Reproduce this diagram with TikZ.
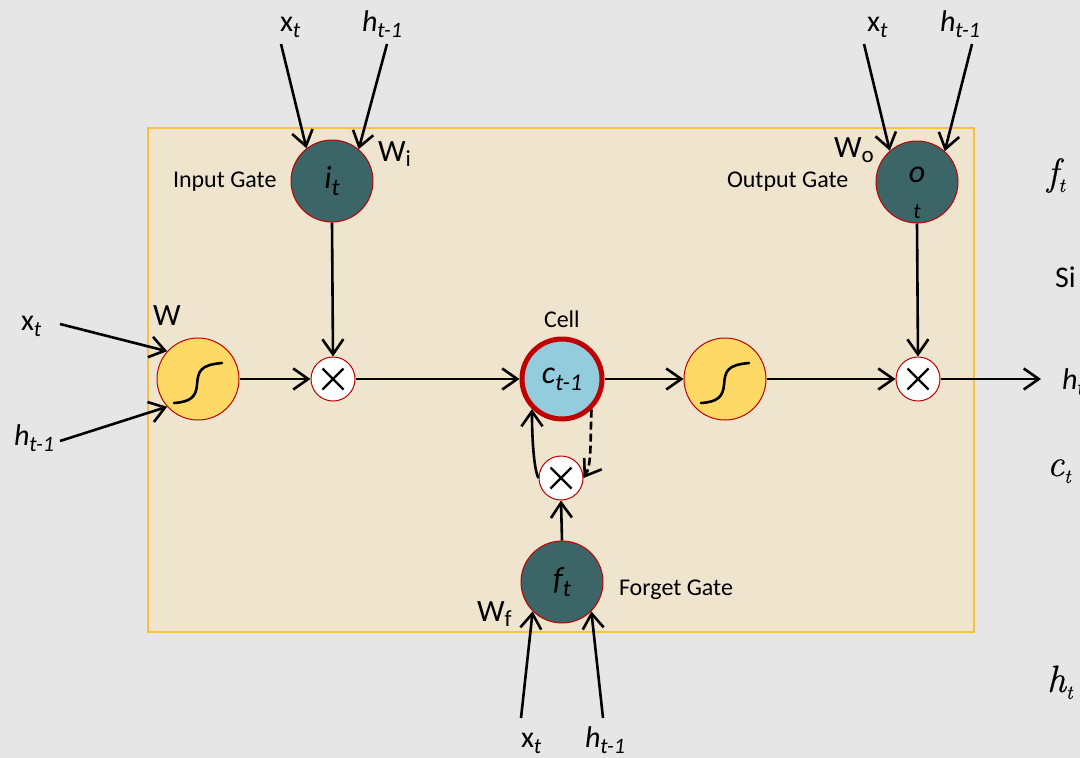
\documentclass[tikz,border=0pt]{standalone}
\usepackage{fontspec}
\setmainfont{Carlito}
\newfontfamily\sidefont[ItalicFeatures={FakeBold=0.5}]{Latin Modern Roman}
\usetikzlibrary{arrows.meta}
\definecolor{bgc}{HTML}{E6E6E6}
\definecolor{boxc}{HTML}{EFE4CD}
\definecolor{boxb}{HTML}{F7C33C}
\definecolor{tealc}{HTML}{3B6566}
\definecolor{yelc}{HTML}{FFD966}
\definecolor{redc}{HTML}{C00000}
\definecolor{bluec}{HTML}{93CCDD}
\newcommand{\fs}[1]{\fontsize{#1}{#1}\selectfont}
\newcommand{\labu}[2]{{\fs{30}#1\raisebox{-6pt}{\fs{22}\itshape #2}}}
\newcommand{\labi}[2]{{\fs{30}\itshape #1\raisebox{-6pt}{\fs{22}\itshape #2}}}
\newcommand{\labg}[2]{{\fs{32}\itshape #1\raisebox{-7pt}{\fs{24}\itshape #2}}}
\newcommand{\labw}[2]{{\fs{31}#1\raisebox{-5pt}{\fs{23}#2}}}
\newcommand{\labs}[2]{{\sidefont\fs{38}\itshape #1\raisebox{-7pt}{\fs{20}\itshape #2}}}
\tikzset{
  x=1pt,y=-1pt,
  conn/.style={line width=2.6pt,black,-{Straight Barb[length=15pt,width=21pt,line width=2.6pt]}},
  gate/.style={circle,draw=redc,line width=1pt,fill=tealc,minimum size=82pt,inner sep=0pt,text=black},
  sig/.style={circle,draw=redc,line width=1pt,fill=yelc,minimum size=82pt,inner sep=0pt},
  mult/.style={circle,draw=redc,line width=1pt,fill=white,minimum size=44pt,inner sep=0pt},
  cellc/.style={circle,draw=redc,line width=5pt,fill=bluec,minimum size=80pt,inner sep=0pt},
  crossl/.style={line width=2.4pt,black},
  sigl/.style={line width=2.6pt,black,line cap=round},
  lbl/.style={anchor=base west,inner sep=0pt,outer sep=0pt,text=black},
  gatecap/.style={anchor=base west,inner sep=0pt,outer sep=0pt,font=\fs{24}},
}
\begin{document}
\begin{tikzpicture}
\useasboundingbox (0,0) rectangle (1080,758);
\clip (0,0) rectangle (1080,758);
\fill[bgc] (0,0) rectangle (1080,758);
\node[draw=boxb,line width=1.5pt,fill=boxc,minimum width=826pt,minimum height=504pt,inner sep=0pt] (panel) at (561,380) {};

\node[gate] (igate) at (332,181) {\labg{i}{t}};
\node[gate] (ogate) at (917,182) {\smash{\makebox[0pt][c]{\fs{32}\itshape o}\makebox[0pt][c]{\raisebox{-36pt}{\fs{22}\itshape t}}}};
\node[gate] (fgate) at (562,582) {\labg{f}{t}};
\node[sig] (sl) at (198,379) {};
\node[sig] (sr) at (725,379) {};
\node[mult] (m1) at (333,379) {};
\node[mult] (m2) at (918,379) {};
\node[mult] (m3) at (561,478) {};
\node[cellc] (cell) at (562,379) {\labg{c}{t-1}};

\foreach \m in {m1,m2,m3}{
  \draw[crossl,shift={(\m)}] (-10.5,-10.5) -- (10.5,10.5) (-10.5,10.5) -- (10.5,-10.5);
}
\foreach \m in {sl,sr}{
  \draw[sigl,shift={(\m)}] (-24,24) .. controls (-8,23) and (-2,18) .. (-1,6) .. controls (0,-8) and (2,-14) .. (24,-16);
}

% free ends
\coordinate (ixs) at (281,44);
\coordinate (ihs) at (387,44);
\coordinate (oxs) at (864,44);
\coordinate (ohs) at (972,44);
\coordinate (sxs) at (60,324);
\coordinate (shs) at (60,441);
\coordinate (fxs) at (521,718);
\coordinate (fhs) at (603,718);
\coordinate (outend) at (1041,379);

\draw[conn] (ixs) -- (igate.128);
\draw[conn] (ihs) -- (igate.50);
\draw[conn] (oxs) -- (ogate.131);
\draw[conn] (ohs) -- (ogate.48);
\draw[conn] (sxs) -- (sl.138);
\draw[conn] (shs) -- (sl.222);
\draw[conn] (fxs) -- (fgate.225);
\draw[conn] (fhs) -- (fgate.315);
\draw[conn] (igate.south) -- (m1.north);
\draw[conn] (ogate.south) -- (m2.north);
\draw[conn] (sl.east) -- (m1.west);
\draw[conn] (m1.east) -- (cell.west);
\draw[conn] (cell.east) -- (sr.west);
\draw[conn] (sr.east) -- (m2.west);
\draw[conn] (m2.east) -- (outend);
\draw[conn] (fgate.north) -- (m3.south);
\draw[conn] (m3.west) .. controls (534,470) and (532,440) .. (cell.225);
\draw[conn,dash pattern=on 8pt off 4pt] (cell.314) .. controls (590,440) and (592,465) .. (m3.east);

% labels
\node[lbl] (lix) at (280,31) {\labu{x}{t}};
\node[lbl] (lih) at (362,31) {\labi{h}{t-1}};
\node[lbl] (lox) at (867,31) {\labu{x}{t}};
\node[lbl] (loh) at (940,31) {\labi{h}{t-1}};
\node[lbl] (lsx) at (21,330) {\labu{x}{t}};
\node[lbl] (lsh) at (14,445) {\labi{h}{t-1}};
\node[lbl] (lfx) at (521,747) {\labu{x}{t}};
\node[lbl] (lfh) at (585,747) {\labi{h}{t-1}};
\node[lbl] (lw) at (153,325) {{\fs{31}W}};
\node[lbl] (lwi) at (378,161) {\labw{W}{i}};
\node[lbl] (lwo) at (834,157) {\labw{W}{o}};
\node[lbl] (lwf) at (477,621) {\labw{W}{f}};
\node[gatecap] (lig) at (173,187) {Input Gate};
\node[gatecap] (log) at (727,187) {Output Gate};
\node[gatecap] (lfg) at (619,595) {Forget Gate};
\node[gatecap] (lcell) at (544,327) {Cell};
\node[lbl] (rh) at (1062,389) {\labi{h}{t}};
\node[lbl] (rsi) at (1055,287) {{\fs{30}Si}};
\node[lbl] (rf) at (1047,185) {\labs{f}{t}};
\node[lbl] (rc) at (1047,476) {\labs{c}{t}};
\node[lbl] (rht) at (1047,692) {\labs{h}{t}};
\end{tikzpicture}
\end{document}
